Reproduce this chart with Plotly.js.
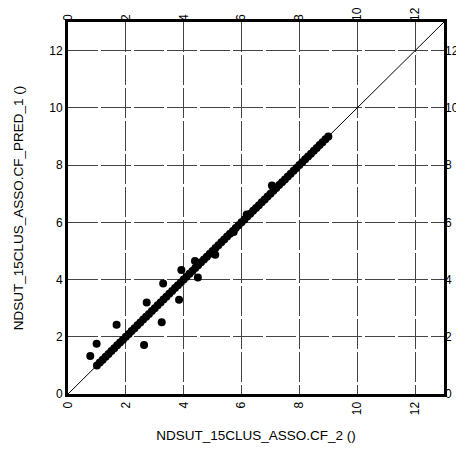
<!DOCTYPE html>
<html><head><meta charset="utf-8">
<script src="https://cdn.plot.ly/plotly-3.0.1.min.js"></script>
<style>html,body{margin:0;padding:0;background:#fff}</style>
</head><body><div id="chart" style="width:456px;height:455px"></div>
<script>
// Dense points lying on the identity line (observed vs predicted)
const lineX = [1.0,1.1,1.2,1.3,1.4,1.5,1.6,1.7,1.8,1.9,2.0,2.1,2.2,2.3,2.4,2.5,2.6,2.7,2.8,2.9,3.0,3.1,3.2,3.3,3.4,3.5,3.6,3.7,3.8,3.9,4.0,4.1,4.2,4.3,4.4,4.5,4.6,4.7,4.8,4.9,5.0,5.1,5.2,5.3,5.4,5.5,5.6,5.7,5.8,5.9,6.0,6.1,6.2,6.3,6.4,6.5,6.6,6.7,6.8,6.9,7.0,7.1,7.2,7.3,7.4,7.5,7.6,7.7,7.8,7.9,8.0,8.1,8.2,8.3,8.4,8.5,8.6,8.7,8.8,8.9,9.0];
const lineY = [1.0,1.1,1.2,1.3,1.4,1.5,1.6,1.7,1.8,1.9,2.0,2.1,2.2,2.3,2.4,2.5,2.6,2.7,2.8,2.9,3.0,3.1,3.2,3.3,3.4,3.5,3.6,3.7,3.8,3.9,4.0,4.1,4.2,4.3,4.4,4.5,4.6,4.7,4.8,4.9,5.0,5.1,5.2,5.3,5.4,5.5,5.6,5.7,5.8,5.9,6.0,6.1,6.2,6.3,6.4,6.5,6.6,6.7,6.8,6.9,7.0,7.1,7.2,7.3,7.4,7.5,7.6,7.7,7.8,7.9,8.0,8.1,8.2,8.3,8.4,8.5,8.6,8.7,8.8,8.9,9.0];
// Points off the identity line
const offX = [0.77,0.99,1.68,2.63,2.72,3.24,3.29,3.84,3.92,4.39,4.49,5.09,5.73,6.18,7.05];
const offY = [1.33,1.76,2.42,1.71,3.20,2.51,3.86,3.29,4.33,4.65,4.07,4.87,5.66,6.27,7.29];
// Identity reference line
const refX = [0, 13];
const refY = [0, 13];
const tickVals = [0,2,4,6,8,10,12];
const tickText = ["0","2","4","6","8","10","12"];

const font = {family: "Liberation Sans, Arial, sans-serif", size: 12, color: "#000"};
const titleFont = {family: "Liberation Sans, Arial, sans-serif", size: 13.5, color: "#000"};
const traces = [
  {x: refX, y: refY, mode: "lines", line: {color: "#000", width: 1}, hoverinfo: "skip", showlegend: false},
  {x: lineX, y: lineY, mode: "markers", marker: {color: "#000", size: 8}, showlegend: false},
  {x: offX, y: offY, mode: "markers", marker: {color: "#000", size: 8}, showlegend: false},
  {x: [null], y: [null], xaxis: "x2", yaxis: "y2", showlegend: false}
];
const gridStyle = {showgrid: true, gridcolor: "#444", gridwidth: 1, griddash: "30px,3px"};
const layout = {
  width: 456, height: 455,
  margin: {l: 68, r: 12, t: 22, b: 61},
  paper_bgcolor: "#fff", plot_bgcolor: "#fff",
  font: font,
  showlegend: false,
  xaxis: Object.assign({
    range: [0, 13], tickvals: tickVals, ticktext: tickText, tickangle: -90,
    showline: true, linecolor: "#000", linewidth: 3, mirror: true, zeroline: false,
    ticks: "", tickfont: font,
    title: {text: "NDSUT_15CLUS_ASSO.CF_2 ()", font: titleFont, standoff: 17}
  }, gridStyle),
  yaxis: Object.assign({
    range: [0, 13], tickvals: tickVals, ticktext: tickText,
    showline: true, linecolor: "#000", linewidth: 3, mirror: true, zeroline: false,
    ticks: "", tickfont: font,
    title: {text: "NDSUT_15CLUS_ASSO.CF_PRED_1 ()", font: titleFont, standoff: 23}
  }, gridStyle),
  xaxis2: {
    overlaying: "x", side: "top", range: [0, 13], tickvals: tickVals, ticktext: tickText,
    tickangle: -90, showgrid: false, zeroline: false, showline: false, ticks: "", tickfont: font
  },
  yaxis2: {
    overlaying: "y", side: "right", range: [0, 13], tickvals: tickVals, ticktext: tickText,
    showgrid: false, zeroline: false, showline: false, ticks: "", tickfont: font
  }
};
Plotly.newPlot("chart", traces, layout, {displayModeBar: false, staticPlot: true});
</script>
</body></html>
